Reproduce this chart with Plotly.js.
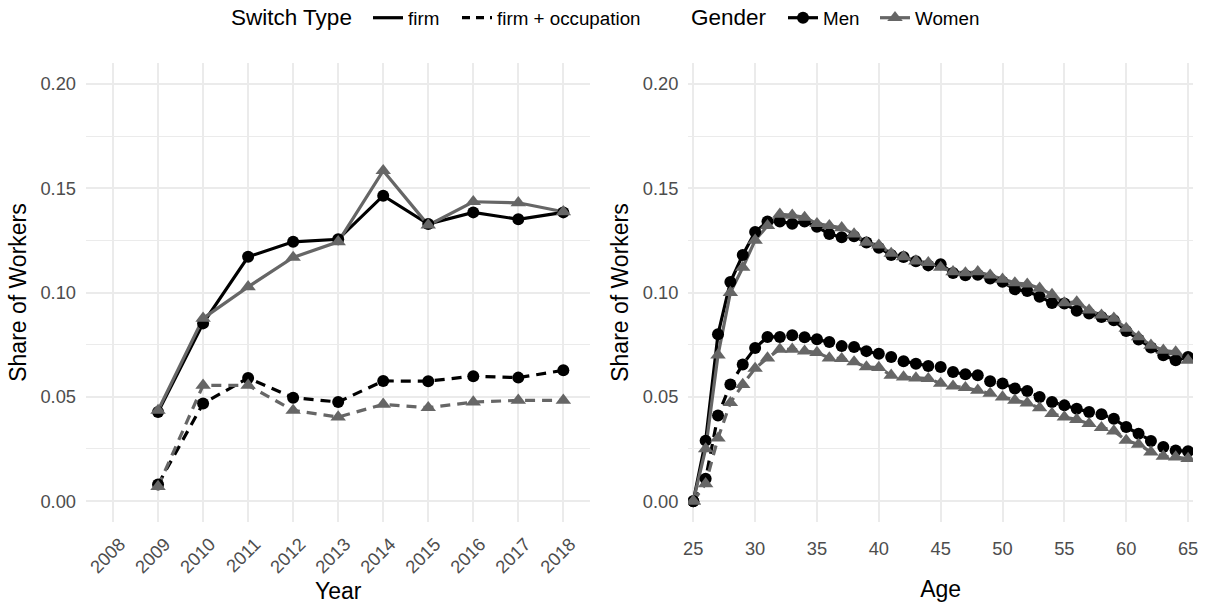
<!DOCTYPE html>
<html><head><meta charset="utf-8">
<script src="https://cdn.plot.ly/plotly-3.0.1.min.js"></script>
<style>html,body{margin:0;padding:0;background:#fff}#chart{width:1205px;height:607px}</style>
</head><body><div id="chart"></div>
<script>
// ---------- data ----------
const years = [2009, 2010, 2011, 2012, 2013, 2014, 2015, 2016, 2017, 2018];
const yearTicks = [2008, 2009, 2010, 2011, 2012, 2013, 2014, 2015, 2016, 2017, 2018];
const yearMenFirm = [0.0427, 0.0852, 0.1171, 0.1243, 0.1255, 0.1464, 0.1328, 0.1384, 0.1351, 0.1384];
const yearWomenFirm = [0.0435, 0.0876, 0.1027, 0.1168, 0.1243, 0.1584, 0.1323, 0.1435, 0.1430, 0.1387];
const yearMenOcc = [0.0080, 0.0468, 0.0590, 0.0496, 0.0475, 0.0576, 0.0575, 0.0599, 0.0592, 0.0627];
const yearWomenOcc = [0.0070, 0.0555, 0.0555, 0.0435, 0.0403, 0.0464, 0.0448, 0.0475, 0.0483, 0.0483];

const ages = [25, 26, 27, 28, 29, 30, 31, 32, 33, 34, 35, 36, 37, 38, 39, 40, 41, 42, 43, 44, 45,
  46, 47, 48, 49, 50, 51, 52, 53, 54, 55, 56, 57, 58, 59, 60, 61, 62, 63, 64, 65];
const ageTicks = [25, 30, 35, 40, 45, 50, 55, 60, 65];
const ageMenFirm = [0.000, 0.029, 0.080, 0.105, 0.118, 0.129, 0.134, 0.134, 0.133, 0.134, 0.1315,
  0.128, 0.1265, 0.127, 0.124, 0.1215, 0.118, 0.117, 0.115, 0.113, 0.1135,
  0.1094, 0.1083, 0.1085, 0.1067, 0.1051, 0.1015, 0.1007, 0.098, 0.095, 0.0947,
  0.0912, 0.0899, 0.0883, 0.0867, 0.0816, 0.0775, 0.0736, 0.0699, 0.0675, 0.0691];
const ageWomenFirm = [0.000, 0.025, 0.070, 0.100, 0.112, 0.125, 0.132, 0.1375, 0.137, 0.136, 0.133,
  0.132, 0.131, 0.128, 0.124, 0.1227, 0.1187, 0.1171, 0.1151, 0.1143, 0.112,
  0.1099, 0.1094, 0.1099, 0.1083, 0.1063, 0.1046, 0.104, 0.102, 0.099, 0.095,
  0.0955, 0.0915, 0.0891, 0.0876, 0.0828, 0.0787, 0.0747, 0.0723, 0.0715, 0.0675];
const ageMenOcc = [0.000, 0.0107, 0.0411, 0.0559, 0.0655, 0.0734, 0.0787, 0.0787, 0.0795, 0.0785, 0.0776,
  0.0763, 0.0743, 0.0739, 0.0719, 0.0706, 0.0691, 0.0671, 0.0658, 0.0648, 0.0643,
  0.0619, 0.0608, 0.0603, 0.0575, 0.0564, 0.054, 0.0528, 0.0499, 0.0475, 0.0459,
  0.0443, 0.0427, 0.0416, 0.0395, 0.0355, 0.0323, 0.0288, 0.0259, 0.0243, 0.0239];
const ageWomenOcc = [0.000, 0.0083, 0.0302, 0.0472, 0.0559, 0.0636, 0.0686, 0.0728, 0.0728, 0.0719, 0.0712,
  0.0686, 0.0683, 0.0667, 0.0643, 0.064, 0.0603, 0.0595, 0.059, 0.0587, 0.0564,
  0.0551, 0.0544, 0.0531, 0.0516, 0.0499, 0.0483, 0.047, 0.0447, 0.042, 0.0403,
  0.0391, 0.0371, 0.0352, 0.0336, 0.0291, 0.0272, 0.0235, 0.0215, 0.0211, 0.0204];
const yTicks = [0, 0.05, 0.10, 0.15, 0.20];
const yTickText = ['0.00', '0.05', '0.10', '0.15', '0.20'];

// ---------- styles ----------
const BLACK = '#000000', GREY = '#666666';
const LW = 3.2, DASH = '10px,7px';
const FONT = 'Liberation Sans, Arial, Helvetica, sans-serif';
const CIRC = 12, TRI = 13.5;
const TICK_FS = 18.3, TITLE_FS = 23, LEG_FS = 18.8, LEGT_FS = 22.5;

function lineTrace(x, y, color, dash, xa, ya) {
  return {x: x, y: y, type: 'scatter', mode: 'lines', xaxis: xa, yaxis: ya,
    line: {color: color, width: LW, dash: dash}, showlegend: false, hoverinfo: 'skip'};
}
function pointTrace(x, y, color, symbol, xa, ya) {
  return {x: x, y: y, type: 'scatter', mode: 'markers', xaxis: xa, yaxis: ya,
    marker: {color: color, symbol: symbol, size: symbol === 'circle' ? CIRC : TRI, line: {width: 0}},
    showlegend: false, hoverinfo: 'skip'};
}

const panels = [
  {x: years, mf: yearMenFirm, mo: yearMenOcc, wf: yearWomenFirm, wo: yearWomenOcc, xa: 'x', ya: 'y'},
  {x: ages, mf: ageMenFirm, mo: ageMenOcc, wf: ageWomenFirm, wo: ageWomenOcc, xa: 'x2', ya: 'y2'}
];
const traces = [];
panels.forEach(p => {
  traces.push(lineTrace(p.x, p.mf, BLACK, 'solid', p.xa, p.ya));
  traces.push(lineTrace(p.x, p.mo, BLACK, DASH, p.xa, p.ya));
  traces.push(lineTrace(p.x, p.wf, GREY, 'solid', p.xa, p.ya));
  traces.push(lineTrace(p.x, p.wo, GREY, DASH, p.xa, p.ya));
  traces.push(pointTrace(p.x, p.mf, BLACK, 'circle', p.xa, p.ya));
  traces.push(pointTrace(p.x, p.mo, BLACK, 'circle', p.xa, p.ya));
  traces.push(pointTrace(p.x, p.wf, GREY, 'triangle-up', p.xa, p.ya));
  traces.push(pointTrace(p.x, p.wo, GREY, 'triangle-up', p.xa, p.ya));
});

// legend-only entries
traces.push({x: [null], y: [null], type: 'scatter', mode: 'lines', name: 'firm', legend: 'legend',
  legendwidth: 44, line: {color: BLACK, width: LW, dash: 'solid'}});
traces.push({x: [null], y: [null], type: 'scatter', mode: 'lines', name: 'firm + occupation', legend: 'legend',
  line: {color: BLACK, width: LW, dash: '8px,6px'}});
traces.push({x: [null], y: [null], type: 'scatter', mode: 'lines+markers', name: 'Men', legend: 'legend2',
  legendwidth: 47, line: {color: BLACK, width: LW}, marker: {color: BLACK, symbol: 'circle', size: CIRC}});
traces.push({x: [null], y: [null], type: 'scatter', mode: 'lines+markers', name: 'Women', legend: 'legend2',
  line: {color: GREY, width: LW}, marker: {color: GREY, symbol: 'triangle-up', size: TRI}});

const gridC = '#EBEBEB';
function yAxis(anchor) {
  return {anchor: anchor, domain: [0, 1], range: [-0.01, 0.21], tickvals: yTicks, ticktext: yTickText,
    showgrid: true, gridcolor: gridC, gridwidth: 2, zeroline: false, showline: false, ticks: '',
    ticklabelstandoff: 9, tickfont: {size: TICK_FS, color: '#4D4D4D', family: FONT},
    minor: {dtick: 0.025, tick0: 0, showgrid: true, gridcolor: gridC, gridwidth: 1, ticks: ''},
    title: {text: 'Share of Workers', font: {size: TITLE_FS, color: '#000', family: FONT}, standoff: 7}};
}

// plot-area geometry (px) used to place legend titles
const ML = 86, MR = 12, MT = 63, MB = 85, W = 1205, H = 607;
const PW = W - ML - MR, PH = H - MT - MB;
function px(xp) { return (xp - ML) / PW; }
function py(yp) { return (H - MB - yp) / PH; }

const legCommon = {orientation: 'h', xref: 'container', yref: 'container', y: 1 - 18 / H,
  xanchor: 'left', yanchor: 'middle', font: {size: LEG_FS, family: FONT, color: '#000'},
  bgcolor: 'rgba(0,0,0,0)', borderwidth: 0, itemclick: false, itemdoubleclick: false};

const layout = {
  width: W, height: H,
  margin: {l: ML, r: MR, t: MT, b: MB},
  paper_bgcolor: '#fff', plot_bgcolor: '#fff',
  font: {family: FONT, color: '#000'},
  xaxis: {domain: [0, 0.4556], anchor: 'y', range: [2007.4, 2018.6], tickvals: yearTicks,
    ticktext: yearTicks.map(String), tickangle: -45, showgrid: true, gridcolor: gridC, gridwidth: 2,
    zeroline: false, showline: false, ticks: '', ticklabelstandoff: 7, ticklabelshift: 7,
    tickfont: {size: TICK_FS, color: '#4D4D4D', family: FONT},
    title: {text: 'Year', font: {size: TITLE_FS, color: '#000', family: FONT}, standoff: 6}},
  xaxis2: {domain: [0.5441, 1], anchor: 'y2', range: [24.6, 65.4], tickvals: ageTicks,
    showgrid: true, gridcolor: gridC, gridwidth: 2, zeroline: false, showline: false, ticks: '',
    ticklabelstandoff: 14, tickfont: {size: TICK_FS, color: '#4D4D4D', family: FONT},
    title: {text: 'Age', font: {size: TITLE_FS, color: '#000', family: FONT}, standoff: 22}},
  yaxis: yAxis('x'),
  yaxis2: yAxis('x2'),
  legend: Object.assign({x: 368 / W}, legCommon),
  legend2: Object.assign({x: 783 / W}, legCommon),
  showlegend: true,
  annotations: [
    {text: 'Switch Type', xref: 'paper', yref: 'paper', x: px(229), y: py(18), xanchor: 'left', yanchor: 'middle',
      showarrow: false, font: {size: LEGT_FS, family: FONT, color: '#000'}},
    {text: 'Gender', xref: 'paper', yref: 'paper', x: px(689), y: py(18), xanchor: 'left', yanchor: 'middle',
      showarrow: false, font: {size: LEGT_FS, family: FONT, color: '#000'}}
  ]
};

Plotly.newPlot('chart', traces, layout, {staticPlot: true, displayModeBar: false});
</script>
</body></html>
